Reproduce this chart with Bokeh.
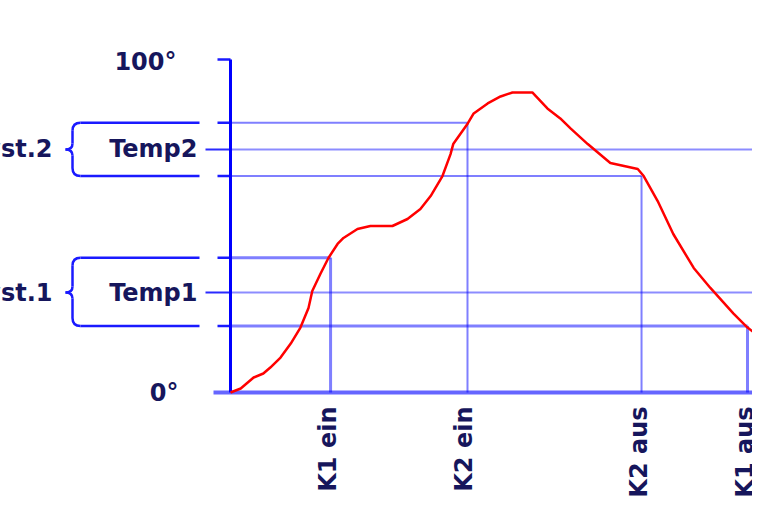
import numpy as np
from bokeh.plotting import figure
from bokeh.models import Range1d
from bokeh.core.properties import value
from bokeh.embed import file_html
from bokeh.resources import INLINE

# ---------------- data ----------------
time = [0, 1.9, 4.3, 6.1, 7.4, 9.3, 11.2, 13.0, 14.5, 15.2, 16.7, 18.2, 19.9, 21.0,
        23.6, 26.0, 30.1, 32.9, 35.3, 37.2, 39.4, 40.9, 41.4, 44.1, 45.2, 47.8, 50.2,
        52.4, 56.1, 58.9, 61.3, 63.2, 66.4, 70.6, 75.7, 76.8, 79.4, 82.3, 86.1, 89.2,
        93.5, 96.1, 100]
temp = [0, 1.2, 4.5, 5.7, 7.5, 10.5, 14.7, 19.5, 25.4, 30.5, 35.6, 40.4, 44.6, 46.4,
        49.1, 50.0, 50.0, 52.1, 55.1, 59.0, 65.0, 71.6, 74.6, 80.8, 83.8, 86.8, 88.9,
        90.1, 90.1, 85.3, 82.3, 79.3, 74.6, 68.9, 67.1, 65.0, 57.5, 47.6, 37.4, 31.4,
        23.7, 19.5, 14.7]

event_labels = ["K1 ein", "K2 ein", "K2 aus", "K1 aus"]
event_times = [18.6, 44.05, 76.4, 96.1]
event_levels = [40.5, 81, 65, 20]

set_labels = ["Temp1", "Temp2"]
set_points = [30, 73]
hyst_labels = ["Hyst.1", "Hyst.2"]
hyst_low = [20, 65]
hyst_high = [40.5, 81]

axis_labels = ["0°", "100°"]
axis_values = [0, 100]

# ---------------- layout ----------------
W, H = 752, 496
XS = 5.38      # px per time unit
YS = 3.33      # px per degree
X0_PX = 230    # canvas px of the origin
Y0_PX = 392

def dx(px):
    return px / XS

def dy(px):
    return px / YS

x_end = (W - X0_PX) / XS
p = figure(width=W, height=H,
           x_range=Range1d(-X0_PX / XS, x_end),
           y_range=Range1d(-(H - Y0_PX) / YS, Y0_PX / YS),
           output_backend="svg", toolbar_location=None,
           x_axis_type=None, y_axis_type=None, min_border=0)
p.grid.visible = False
p.outline_line_color = None
p.background_fill_color = "white"

BLUE = "#0000ff"
TXT = "#16165c"
FONT = value("DejaVu Sans")

# baseline
p.segment(x0=[-dx(17)], y0=[0], x1=[x_end + 5], y1=[0],
          line_color=BLUE, line_alpha=0.6, line_width=4)

# set-point lines (full width)
p.segment(x0=[0] * len(set_points), y0=set_points, x1=[x_end + 5] * len(set_points),
          y1=set_points, line_color=BLUE, line_alpha=0.45, line_width=2)
p.segment(x0=[-dx(25)] * len(set_points), y0=set_points, x1=[0] * len(set_points),
          y1=set_points, line_color="#2a2aff", line_width=2)

# switching lines
widths = [3, 2, 2, 3]
p.segment(x0=[0] * 4, y0=event_levels, x1=event_times, y1=event_levels,
          line_color=BLUE, line_alpha=0.5, line_width=widths)
p.segment(x0=event_times, y0=[0] * 4, x1=event_times, y1=event_levels,
          line_color=BLUE, line_alpha=0.5, line_width=widths)

# ticks
tick_vals = hyst_low + hyst_high + [axis_values[1]]
p.segment(x0=[-dx(13)] * len(tick_vals), y0=tick_vals, x1=[0] * len(tick_vals),
          y1=tick_vals, line_color="#1a1aff", line_width=2.5)

# axis spine
p.segment(x0=[0], y0=[axis_values[0]], x1=[0], y1=[axis_values[1]],
          line_color=BLUE, line_width=3)

# braces
BC = "#1a1aff"
for yt, yc, yb in zip(hyst_high, set_points, hyst_low):
    p.segment(x0=[-dx(150)] * 2, y0=[yt, yb], x1=[-dx(31)] * 2, y1=[yt, yb],
              line_color=BC, line_width=2.5)
    p.quadratic(x0=[-dx(150), -dx(150)], y0=[yt, yb],
                x1=[-dx(158), -dx(158)], y1=[yt - dy(8), yb + dy(8)],
                cx=[-dx(158), -dx(158)], cy=[yt, yb],
                line_color=BC, line_width=2.5)
    p.segment(x0=[-dx(158)] * 2, y0=[yt - dy(8), yb + dy(8)],
              x1=[-dx(158)] * 2, y1=[yc + dy(6), yc - dy(6)],
              line_color=BC, line_width=2.5)
    p.quadratic(x0=[-dx(158), -dx(158)], y0=[yc + dy(6), yc - dy(6)],
                x1=[-dx(165), -dx(165)], y1=[yc, yc],
                cx=[-dx(158), -dx(158)], cy=[yc, yc],
                line_color=BC, line_width=2.5)

# temperature curve
p.line(time, temp, line_color="#ff0000", line_width=2.5)

# texts
common = dict(text_font=FONT, text_font_style="bold", text_font_size="24px",
              text_color=TXT, text_baseline="middle")
p.text(x=[0] * 2, y=set_points, text=set_labels, x_offset=-33, text_align="right", **common)
p.text(x=[0] * 2, y=set_points, text=hyst_labels, x_offset=-178, text_align="right", **common)
p.text(x=[0], y=[axis_values[1]], text=[axis_labels[1]], x_offset=-54, y_offset=2,
       text_align="right", **common)
p.text(x=[0], y=[axis_values[0]], text=[axis_labels[0]], x_offset=-52,
       text_align="right", **common)
p.text(x=event_times, y=[0] * 4, text=event_labels, angle=np.pi / 2,
       x_offset=-3, y_offset=14, text_align="right", **common)

open("out.html", "w").write(file_html(p, INLINE))
